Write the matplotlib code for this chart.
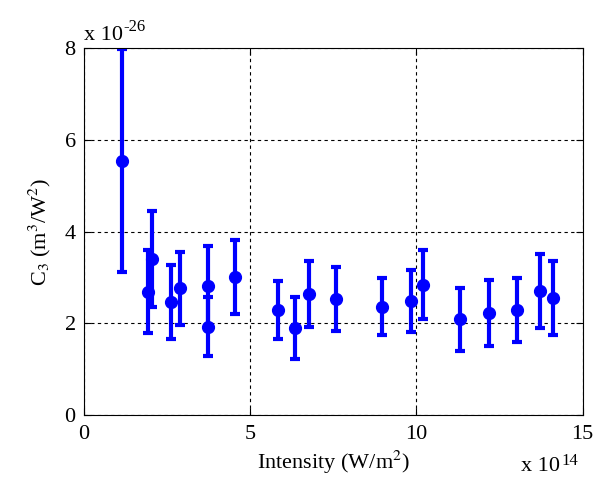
import matplotlib
matplotlib.use("Agg")
import matplotlib.pyplot as plt
import numpy as np

# Intensity in units of 1e14 W/m^2, C3 in units of 1e-26 m^3/W^2
intensity = [1.14, 1.92, 2.04, 2.62, 2.89, 3.72, 3.72, 4.53, 5.85, 6.36, 6.78,
             7.57, 8.97, 9.84, 10.20, 11.30, 12.18, 13.03, 13.73, 14.12]
c3 = [5.55, 2.69, 3.40, 2.46, 2.76, 2.81, 1.93, 3.01, 2.29, 1.90, 2.63,
      2.53, 2.36, 2.49, 2.84, 2.09, 2.23, 2.29, 2.71, 2.56]
c3_err = [2.43, 0.91, 1.05, 0.81, 0.80, 0.88, 0.64, 0.81, 0.64, 0.67, 0.72,
          0.69, 0.62, 0.67, 0.75, 0.69, 0.72, 0.70, 0.81, 0.81]

plt.rcParams['font.family'] = ['Liberation Serif', 'DejaVu Serif']
plt.rcParams['mathtext.fontset'] = 'stix'

fig = plt.figure(figsize=(5.95, 4.88), dpi=100)
ax = fig.add_axes([0.1412, 0.1496, 0.8378, 0.7514])

ax.errorbar(intensity, c3, yerr=c3_err, fmt='o', color='#0000ff',
            markersize=8.5, elinewidth=3, capsize=3.5, capthick=3)

ax.set_xlim(0, 15)
ax.set_ylim(0, 8)
ax.set_xticks([0, 5, 10, 15])
ax.set_yticks([0, 2, 4, 6, 8])
ax.tick_params(direction='in', top=True, right=True, labelsize=16, length=5)
ax.tick_params(axis='x', pad=7)
ax.tick_params(axis='y', pad=6)
ax.grid(True, color='black', linestyle=(0, (3, 3)), linewidth=0.8)
for s in ax.spines.values():
    s.set_linewidth(0.8)

ax.set_xlabel('Intensity (W/m$^2$)', fontsize=16, labelpad=4)
ax.set_ylabel('C$_3$ (m$^3$/W$^2$)', fontsize=16, labelpad=8)

# MATLAB-style exponent labels
ax.text(0.0, 1.01, 'x 10', transform=ax.transAxes, fontsize=16,
        ha='left', va='bottom')
ax.text(0.079, 1.035, '-26', transform=ax.transAxes, fontsize=12,
        ha='left', va='bottom')
ax.text(0.955, -0.115, 'x 10', transform=ax.transAxes, fontsize=16,
        ha='right', va='top')
ax.text(0.957, -0.105, '14', transform=ax.transAxes, fontsize=12,
        ha='left', va='top')

fig.savefig('out.png', dpi=100)
